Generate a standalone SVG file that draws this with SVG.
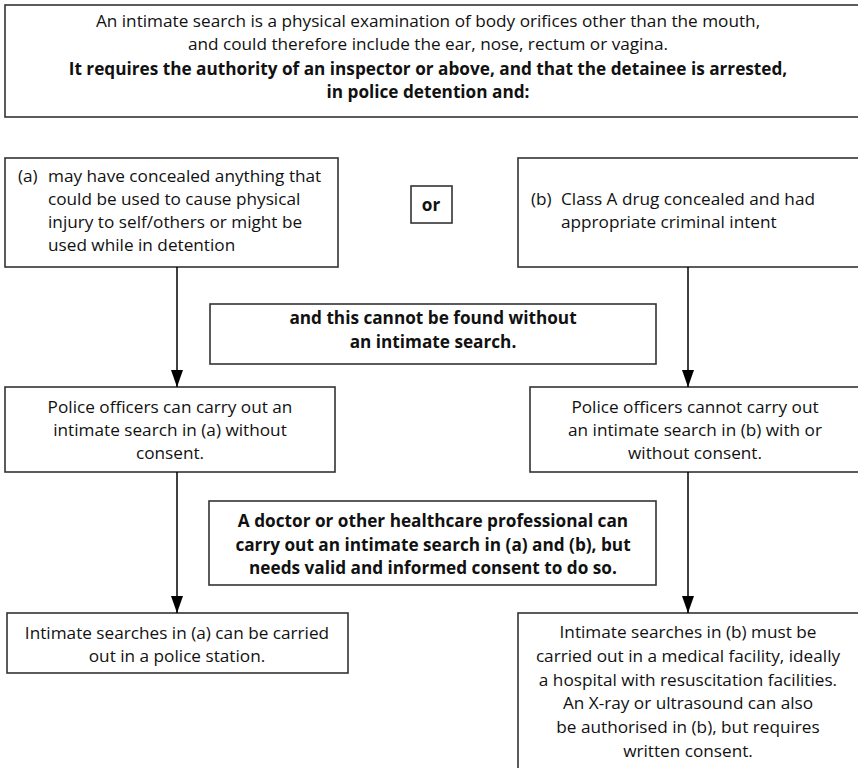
<svg xmlns="http://www.w3.org/2000/svg" width="858" height="768" viewBox="0 0 858 768">
<defs>
<style>
.box{fill:#fff;stroke:#333;stroke-width:1.6}
.t{font-family:"Open Sans","DejaVu Sans",sans-serif;font-size:17.2px;fill:#111}
.b{font-weight:bold}
.c{text-anchor:middle}
.con{stroke:#000;stroke-width:1.5;fill:none}
</style>
<marker id="ah" viewBox="0 0 17 12" refX="17" refY="6" markerWidth="17" markerHeight="12" markerUnits="userSpaceOnUse" orient="auto">
<path d="M0,0 L17,6 L0,12 Z" fill="#000"/>
</marker>
</defs>
<rect width="858" height="768" fill="#fff"/>
<g id="intro">
<rect class="box" x="5" y="5" width="870" height="112"/>
<text class="t c" x="428" y="27">An intimate search is a physical examination of body orifices other than the mouth,</text>
<text class="t c" x="428" y="50">and could therefore include the ear, nose, rectum or vagina.</text>
<text class="t c b" x="428" y="75">It requires the authority of an inspector or above, and that the detainee is arrested,</text>
<text class="t c b" x="428" y="98">in police detention and:</text>
</g>
<g id="case-a">
<rect class="box" x="5" y="158" width="333" height="109"/>
<text class="t" x="18" y="182">(a)</text>
<text class="t" x="48" y="182">may have concealed anything that</text>
<text class="t" x="48" y="205">could be used to cause physical</text>
<text class="t" x="48" y="228">injury to self/others or might be</text>
<text class="t" x="48" y="251">used while in detention</text>
</g>
<g id="or">
<rect class="box" x="411" y="186" width="41" height="37"/>
<text class="t c b" x="431" y="211">or</text>
</g>
<g id="case-b">
<rect class="box" x="518" y="158" width="360" height="109"/>
<text class="t" x="531" y="205">(b)</text>
<text class="t" x="561" y="205">Class A drug concealed and had</text>
<text class="t" x="561" y="228">appropriate criminal intent</text>
</g>
<g id="cannot-find">
<rect class="box" x="210" y="304" width="446" height="60"/>
<text class="t c b" x="433" y="324">and this cannot be found without</text>
<text class="t c b" x="433" y="348">an intimate search.</text>
</g>
<g id="police-a">
<rect class="box" x="5" y="387" width="330" height="85"/>
<text class="t c" x="170" y="413">Police officers can carry out an</text>
<text class="t c" x="170" y="436">intimate search in (a) without</text>
<text class="t c" x="170" y="459">consent.</text>
</g>
<g id="police-b">
<rect class="box" x="530" y="387" width="340" height="85"/>
<text class="t c" x="695" y="413">Police officers cannot carry out</text>
<text class="t c" x="695" y="436">an intimate search in (b) with or</text>
<text class="t c" x="695" y="459">without consent.</text>
</g>
<g id="doctor">
<rect class="box" x="209" y="501" width="447" height="84"/>
<text class="t c b" x="433" y="527">A doctor or other healthcare professional can</text>
<text class="t c b" x="433" y="551">carry out an intimate search in (a) and (b), but</text>
<text class="t c b" x="433" y="574">needs valid and informed consent to do so.</text>
</g>
<g id="result-a">
<rect class="box" x="7" y="613" width="341" height="60"/>
<text class="t c" x="177" y="639">Intimate searches in (a) can be carried</text>
<text class="t c" x="177" y="662">out in a police station.</text>
</g>
<g id="result-b">
<rect class="box" x="518" y="613" width="360" height="170"/>
<text class="t c" x="688" y="638">Intimate searches in (b) must be</text>
<text class="t c" x="688" y="662">carried out in a medical facility, ideally</text>
<text class="t c" x="688" y="686">a hospital with resuscitation facilities.</text>
<text class="t c" x="688" y="709">An X-ray or ultrasound can also</text>
<text class="t c" x="688" y="733">be authorised in (b), but requires</text>
<text class="t c" x="688" y="757">written consent.</text>
</g>
<g id="connectors">
<line class="con" x1="177" y1="267" x2="177" y2="387" marker-end="url(#ah)"/>
<line class="con" x1="688" y1="267" x2="688" y2="387" marker-end="url(#ah)"/>
<line class="con" x1="177" y1="472" x2="177" y2="613" marker-end="url(#ah)"/>
<line class="con" x1="688" y1="472" x2="688" y2="613" marker-end="url(#ah)"/>
</g>
</svg>
